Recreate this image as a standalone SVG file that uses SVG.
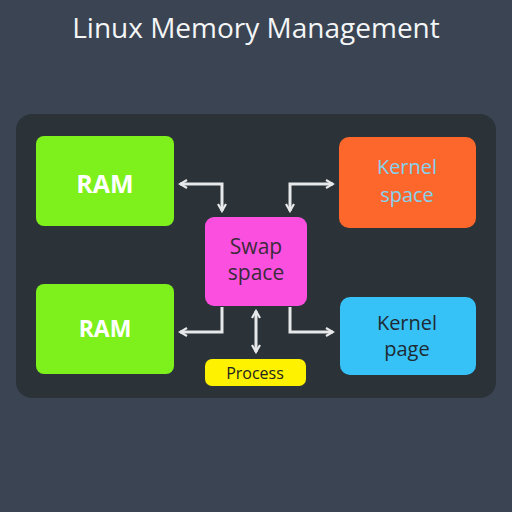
<svg xmlns="http://www.w3.org/2000/svg" width="512" height="512" viewBox="0 0 512 512">
<style>
.conn{fill:none;stroke:#e6e8ea;stroke-width:3;stroke-linejoin:miter}
.t{font-family:"Open Sans","DejaVu Sans",sans-serif;text-anchor:middle}
</style>
<defs>
<marker id="ah" viewBox="0 0 10 10" refX="8" refY="5" markerWidth="10" markerHeight="10" markerUnits="userSpaceOnUse" orient="auto-start-reverse">
<path d="M1,1 L8,5 L1,9" fill="none" stroke="#e6e8ea" stroke-width="2.2"/>
</marker>
</defs>
<rect width="512" height="512" fill="#3a4452"/>
<text class="t" x="256" y="38" font-size="28" fill="#f4f5f6">Linux Memory Management</text>
<rect x="16" y="114" width="480" height="284" rx="16" fill="#2b3238"/>
<g id="ram1"><rect x="36" y="136" width="138" height="90" rx="8" fill="#7ef01c"/><text class="t" x="105" y="193" font-size="25" font-weight="bold" fill="#ffffff">RAM</text></g>
<g id="ram2"><rect x="36" y="284" width="138" height="90" rx="8" fill="#7ef01c"/><text class="t" x="105" y="337" font-size="23" font-weight="bold" fill="#ffffff">RAM</text></g>
<g id="swap"><rect x="205" y="217" width="102" height="89" rx="9" fill="#fb50df"/><text class="t" x="256" y="254" font-size="21" fill="#3a2a3a">Swap</text><text class="t" x="256" y="280" font-size="21" fill="#3a2a3a">space</text></g>
<g id="kspace"><rect x="339" y="137" width="137" height="91" rx="10" fill="#fd672c"/><text class="t" x="407" y="174" font-size="20" fill="#86d2ec">Kernel</text><text class="t" x="407" y="202" font-size="20" fill="#86d2ec">space</text></g>
<g id="kpage"><rect x="340" y="297" width="136" height="78" rx="10" fill="#36c2f6"/><text class="t" x="407" y="330" font-size="20" fill="#1f2a33">Kernel</text><text class="t" x="407" y="356" font-size="20" fill="#1f2a33">page</text></g>
<g id="process"><rect x="205" y="359" width="101" height="27" rx="7" fill="#fff200"/><text class="t" x="255" y="379" font-size="16" fill="#222222">Process</text></g>
<g id="connectors">
<path class="conn" d="M180,184 H222 V211" marker-start="url(#ah)" marker-end="url(#ah)"/>
<path class="conn" d="M290,211 V184 H333" marker-start="url(#ah)" marker-end="url(#ah)"/>
<path class="conn" d="M222,307 V332 H180" marker-end="url(#ah)"/>
<path class="conn" d="M290,307 V332 H333" marker-end="url(#ah)"/>
<path class="conn" d="M256,311 V352" marker-start="url(#ah)" marker-end="url(#ah)"/>
</g>
</svg>
